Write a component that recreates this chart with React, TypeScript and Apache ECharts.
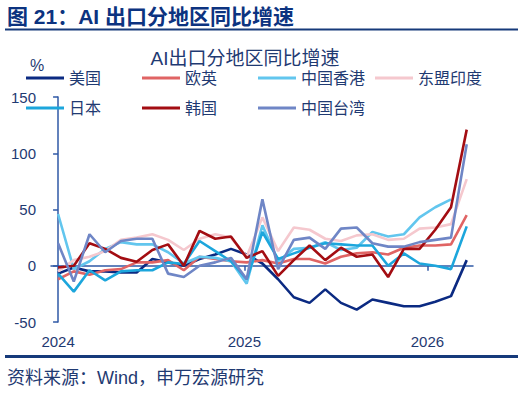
import React, { useEffect, useRef } from "react";
import * as echarts from "echarts";

const seriesNames = ["美国", "欧英", "中国香港", "东盟印度", "日本", "韩国", "中国台湾"];
const seriesColors = ["#0b2a82", "#e06464", "#62c6ee", "#f5c8ce", "#1ca6dc", "#a30d12", "#6f86c6"];

const yearLabels = ["2024", "2025", "2026"];
const yearPositions = [0, 11.85, 23.5];
const yTicks = { min: -50, max: 150, interval: 50 };

const usa = [-7, -1.5, -5, -5, -6, -6, 6, 3, 0, 6, 10, 15, 10, 2, -12, -28, -33, -21, -33, -39, -30, -33, -36, -36, -32, -27, 5];
const euUk = [-12, -5, -8, -4, -3, 3, 3, 5, -4, 8, 6, 4, 3, 5, 2, 6, 6, 2, 8, 11, 12, 10, 16, 18, 18, 19, 45];
const hongKong = [46, -3, 4, 15, 21, 19, 19, 12, 2, 8, 7, 4, -16, 36, 4, 15, 16, 21, 14, 16, 30, 26, 28, 43, 52, 59, null];
const aseanIndia = [-5, 5, 8, 13, 23, 25, 28, 23, 14, 24, 28, 25, 8, 43, 13, 34, 32, 24, 22, 27, 28, 23, 24, 33, 34, 37, 77];
const japan = [-7, -23, -4, -13, -5, -4, -4, 3, 1.5, 22, 13, 4, -12, 30, 6, 11, 16, 20, 19, 18, 18, 0, 11, 2, 0, -3, 35];
const korea = [-1.5, 0, 20, 15, 7, 3.5, 14, 19, 0, 31, 24, 26, 7, 13, -9, 5, 18, 5, 16, 8, 10, -10, 15, 15, 32, 52, 121];
const taiwan = [20, -14, 28, 12, 22, 24, 24, -7, -10, 0, 3, 7, -12, 59, -3, 23, 25, 15, 33, 34, 20, 17, 17, 21, 23, 25, 108];

const allSeries = [usa, euUk, hongKong, aseanIndia, japan, korea, taiwan];

const FONT = "'Liberation Sans', 'Noto Sans CJK SC', sans-serif";
const TEXT_COLOR = "#1f3a72";
const AXIS_COLOR = "#2f59a6";

const legendCols = [26, 142, 258, 375];
const legendRows = [80, 110];

export default function App() {
  const ref = useRef<HTMLDivElement>(null);

  useEffect(() => {
    if (!ref.current) return;
    const chart = echarts.init(ref.current, undefined, { renderer: "svg" });

    const legends = seriesNames.map((name, i) => ({
      data: [name],
      left: legendCols[i % 4],
      top: legendRows[Math.floor(i / 4)] - 10,
      padding: 0,
      itemWidth: 38,
      itemHeight: 3,
      icon: "rect",
      selectedMode: false,
      textStyle: { fontSize: 16, color: TEXT_COLOR, fontFamily: FONT },
    }));

    const option: any = {
      animation: false,
      backgroundColor: "#ffffff",
      textStyle: { fontFamily: FONT },
      legend: legends,
      grid: { left: 51, top: 97, width: 422, height: 225, containLabel: false },
      xAxis: [
        {
          type: "value",
          min: -0.45,
          max: 26.4,
          axisLine: { show: true, onZero: true, lineStyle: { color: AXIS_COLOR, width: 1.5 } },
          axisTick: {
            show: true,
            customValues: yearPositions.slice(1),
            length: 5,
            inside: false,
            lineStyle: { color: AXIS_COLOR, width: 1.5 },
          },
          axisLabel: { show: false },
          splitLine: { show: false },
        },
        {
          type: "value",
          position: "bottom",
          min: -0.45,
          max: 26.4,
          axisLine: { show: false, onZero: false },
          axisTick: { show: false },
          axisLabel: {
            show: true,
            customValues: yearPositions,
            margin: 12,
            fontSize: 15,
            color: TEXT_COLOR,
            fontFamily: FONT,
            formatter: (v: number) => {
              const idx = yearPositions.findIndex((p) => Math.abs(p - v) < 0.01);
              return idx >= 0 ? yearLabels[idx] : "";
            },
          },
          splitLine: { show: false },
        },
      ],
      yAxis: {
        type: "value",
        min: yTicks.min,
        max: yTicks.max,
        interval: yTicks.interval,
        axisLine: { show: true, lineStyle: { color: AXIS_COLOR, width: 1.5 } },
        axisTick: { show: true, length: 5, inside: false, lineStyle: { color: AXIS_COLOR, width: 1.5 } },
        axisLabel: { fontSize: 15, color: TEXT_COLOR, margin: 15, fontFamily: FONT },
        splitLine: { show: false },
      },
      series: allSeries.map((arr, i) => ({
        name: seriesNames[i],
        type: "line",
        xAxisIndex: 0,
        showSymbol: false,
        symbol: "none",
        connectNulls: false,
        color: seriesColors[i],
        lineStyle: { width: 2.6, color: seriesColors[i] },
        data: arr.map((v, j) => [j, v]),
      })),
      graphic: [
        {
          type: "text",
          left: 7,
          top: 6,
          style: {
            text: "图 21：AI 出口分地区同比增速",
            font: `bold 21px ${FONT}`,
            fill: "#0c3380",
          },
        },
        { type: "rect", shape: { x: 5, y: 28.5, width: 513, height: 2 }, style: { fill: "#163a7a" } },
        {
          type: "text",
          x: 245,
          y: 58,
          style: {
            text: "AI出口分地区同比增速",
            font: `19px ${FONT}`,
            fill: TEXT_COLOR,
            align: "center",
            verticalAlign: "middle",
          },
        },
        {
          type: "text",
          x: 37,
          y: 65,
          style: { text: "%", font: `16px ${FONT}`, fill: TEXT_COLOR, align: "center", verticalAlign: "middle" },
        },
        { type: "rect", shape: { x: 5, y: 355, width: 513, height: 3 }, style: { fill: "#163a7a" } },
        {
          type: "text",
          x: 7,
          y: 378,
          style: {
            text: "资料来源：Wind，申万宏源研究",
            font: `18px ${FONT}`,
            fill: TEXT_COLOR,
            verticalAlign: "middle",
          },
        },
      ],
    };

    chart.setOption(option);
    return () => chart.dispose();
  }, []);

  return (
    <div
      ref={ref}
      style={{ position: "fixed", left: 0, top: 0, width: 531, height: 395, background: "#fff" }}
    />
  );
}
